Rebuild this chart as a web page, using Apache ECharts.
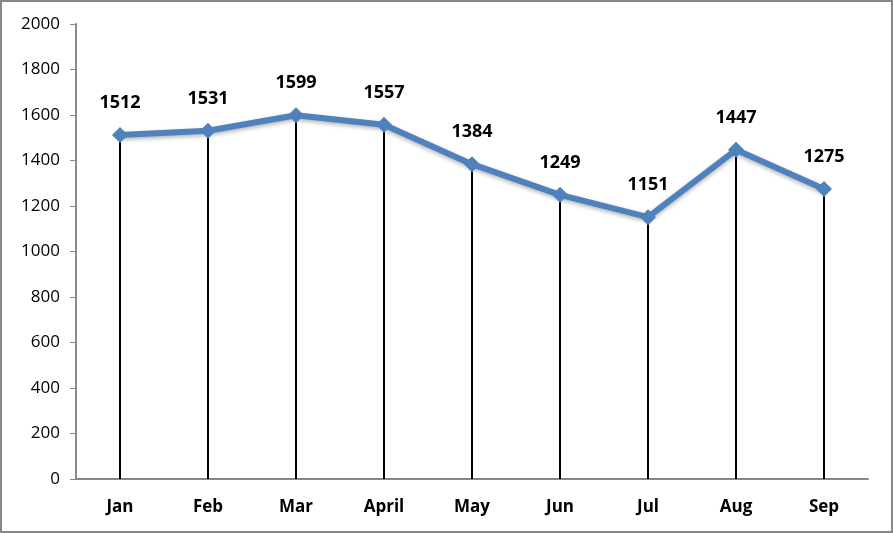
<!DOCTYPE html>
<html><head><meta charset="utf-8">
<script src="https://cdn.jsdelivr.net/npm/echarts@6/dist/echarts.min.js"></script>
<style>html,body{margin:0;padding:0;background:#fff}
#c{width:893px;height:533px;box-sizing:border-box;border:2px solid #888;}</style>
</head><body><div id="c"></div>
<script>
const categories = ['Jan','Feb','Mar','April','May','Jun','Jul','Aug','Sep'];
const values = [1512,1531,1599,1557,1384,1249,1151,1447,1275];
const yTicks = {min:0, max:2000, interval:200};

const chart = echarts.init(document.getElementById('c'), null, {renderer:'canvas'});
const font = 'Open Sans';
chart.setOption({
  animation:false,
  grid:{left:74, right:23, top:22, bottom:52, containLabel:false},
  xAxis:{type:'category', data:categories, boundaryGap:true,
    axisLine:{lineStyle:{color:'#888', width:2}},
    axisTick:{show:false},
    axisLabel:{color:'#000', fontWeight:'bold', fontSize:17, fontFamily:font, margin:20}},
  yAxis:{type:'value', min:yTicks.min, max:yTicks.max, interval:yTicks.interval,
    axisLine:{show:true, lineStyle:{color:'#888', width:2}},
    axisTick:{show:true, length:6, lineStyle:{color:'#888', width:1}},
    splitLine:{show:false},
    axisLabel:{color:'#000', fontSize:17, fontFamily:font, margin:16, formatter:v=>String(v)}},
  series:[
    {type:'bar', data:values, barWidth:2, itemStyle:{color:'#000'}, z:1, silent:true},
    {type:'line', data:values, z:3, symbol:'diamond', symbolSize:16,
     lineStyle:{color:'#4F81BD', width:6, shadowColor:'rgba(0,0,0,0.3)', shadowBlur:4, shadowOffsetY:2},
     itemStyle:{color:'#4F81BD'},
     label:{show:true, position:'top', distance:15, color:'#000', fontWeight:'bold', fontSize:18, fontFamily:font}}
  ]
});
</script></body></html>
